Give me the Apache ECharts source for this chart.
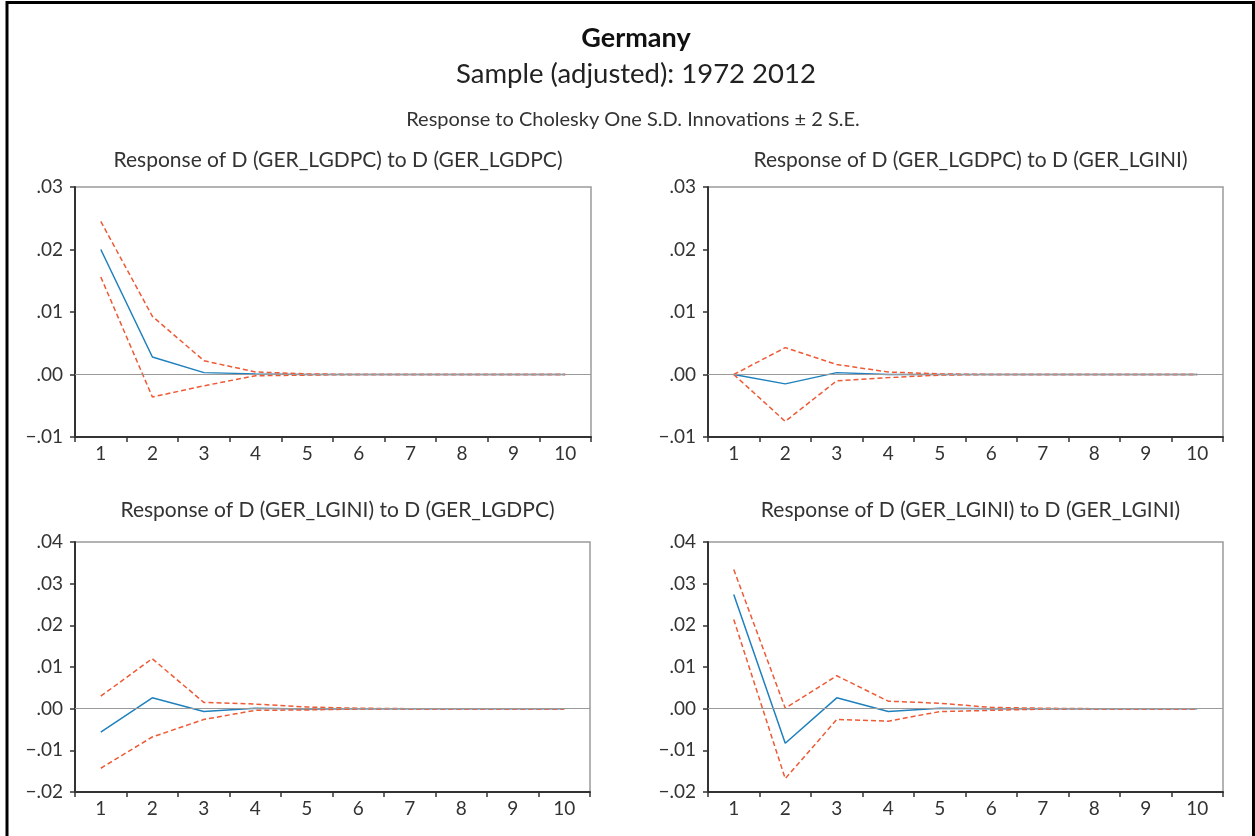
<!DOCTYPE html>
<html><head><meta charset="utf-8">
<script src="https://cdn.jsdelivr.net/npm/echarts@6/dist/echarts.min.js"></script>
<style>html,body{margin:0;padding:0;background:#fff}#c{width:1255px;height:836px}</style>
</head><body><div id="c"></div>
<script>
const periods = ['1','2','3','4','5','6','7','8','9','10'];

// Response of D(GER_LGDPC) to D(GER_LGDPC)
const p1_resp  = [0.0200, 0.0028, 0.0003, 0.0001, 0.0000, 0.0000, 0.0000, 0.0000, 0.0000, 0.0000];
const p1_upper = [0.0245, 0.0093, 0.0022, 0.0004, 0.0001, 0.0000, 0.0000, 0.0000, 0.0000, 0.0000];
const p1_lower = [0.0156, -0.0036, -0.0018, -0.0002, -0.0001, 0.0000, 0.0000, 0.0000, 0.0000, 0.0000];

// Response of D(GER_LGDPC) to D(GER_LGINI)
const p2_resp  = [0.0000, -0.0015, 0.0003, 0.0000, 0.0000, 0.0000, 0.0000, 0.0000, 0.0000, 0.0000];
const p2_upper = [0.0000, 0.0043, 0.0016, 0.0004, 0.0001, 0.0000, 0.0000, 0.0000, 0.0000, 0.0000];
const p2_lower = [0.0000, -0.0075, -0.0010, -0.0005, -0.0001, 0.0000, 0.0000, 0.0000, 0.0000, 0.0000];

// Response of D(GER_LGINI) to D(GER_LGDPC)
const p3_resp  = [-0.0056, 0.0026, -0.0007, 0.0001, -0.0001, 0.0000, 0.0000, 0.0000, 0.0000, 0.0000];
const p3_upper = [0.0030, 0.0120, 0.0015, 0.0011, 0.0004, 0.0001, 0.0000, 0.0000, 0.0000, 0.0000];
const p3_lower = [-0.0143, -0.0068, -0.0026, -0.0004, -0.0003, -0.0001, 0.0000, 0.0000, 0.0000, 0.0000];

// Response of D(GER_LGINI) to D(GER_LGINI)
const p4_resp  = [0.0274, -0.0083, 0.0026, -0.0007, 0.0001, 0.0000, 0.0000, 0.0000, 0.0000, 0.0000];
const p4_upper = [0.0334, 0.0001, 0.0079, 0.0018, 0.0013, 0.0003, 0.0001, 0.0000, 0.0000, 0.0000];
const p4_lower = [0.0214, -0.0168, -0.0026, -0.0030, -0.0007, -0.0004, -0.0001, 0.0000, 0.0000, 0.0000];

const panelTitles = [
  'Response of D (GER_LGDPC) to D (GER_LGDPC)',
  'Response of D (GER_LGDPC) to D (GER_LGINI)',
  'Response of D (GER_LGINI) to D (GER_LGDPC)',
  'Response of D (GER_LGINI) to D (GER_LGINI)'
];
const yRanges = [[-0.01, 0.03], [-0.01, 0.03], [-0.02, 0.04], [-0.02, 0.04]];
const panels = [
  [p1_resp, p1_upper, p1_lower],
  [p2_resp, p2_upper, p2_lower],
  [p3_resp, p3_upper, p3_lower],
  [p4_resp, p4_upper, p4_lower]
];

const FONT = 'Lato, "Open Sans", sans-serif';
const TXT = '#333';
const BLUE = '#1f80bd';
const RED = '#ee5a35';

const grids = [
  {left: 75, top: 187, width: 516, height: 250},
  {left: 708, top: 187, width: 515, height: 250},
  {left: 75, top: 542, width: 515, height: 250},
  {left: 708, top: 542, width: 515, height: 250}
];

function fmt(v) {
  let s = Math.abs(v).toFixed(2).replace(/^0\./, '.');
  return (v < -1e-9 ? '\u2212' : '') + s;
}

const option = {
  animation: false,
  backgroundColor: '#fff',
  textStyle: {fontFamily: FONT},
  title: [
    {text: 'Germany', left: 631, top: 20, textAlign: 'center',
     textStyle: {fontFamily: FONT, fontSize: 27, fontWeight: 'bold', color: '#111'}},
    {text: 'Sample (adjusted): 1972 2012', left: 631, top: 55, textAlign: 'center',
     textStyle: {fontFamily: FONT, fontSize: 27.5, fontWeight: 'normal', color: '#222'}},
    {text: 'Response to Cholesky One S.D. Innovations \u00b1 2 S.E.', left: 628, top: 105, textAlign: 'center',
     textStyle: {fontFamily: FONT, fontSize: 20, fontWeight: 'normal', color: TXT}}
  ],
  grid: grids.map(g => Object.assign({show: true, borderColor: '#9a9a9a', borderWidth: 1.5, backgroundColor: 'transparent'}, g)),
  xAxis: grids.map((g, i) => ({
    type: 'category', gridIndex: i, data: periods, boundaryGap: true,
    axisLine: {show: true, onZero: false, lineStyle: {color: '#333', width: 2}},
    axisTick: {show: true, alignWithLabel: false, length: 5, lineStyle: {color: '#333', width: 1.5}},
    axisLabel: {color: TXT, fontSize: 19, fontFamily: FONT, margin: 7},
    splitLine: {show: false}
  })),
  yAxis: grids.map((g, i) => ({
    type: 'value', gridIndex: i, min: yRanges[i][0], max: yRanges[i][1], interval: 0.01,
    axisLine: {show: true, onZero: false, lineStyle: {color: '#333', width: 2}},
    axisTick: {show: true, length: 5, lineStyle: {color: '#333', width: 1.5}},
    axisLabel: {color: TXT, fontSize: 19, fontFamily: FONT, margin: 12, formatter: fmt},
    splitLine: {show: false}
  })),
  series: [],
  graphic: [
    {type: 'polyline', silent: true, z: 100,
     shape: {points: [[7, 836], [7, 2.5], [1253.5, 2.5], [1253.5, 836]]},
     style: {stroke: '#000', lineWidth: 3, fill: null}}
  ]
};

panels.forEach((p, i) => {
  const g = grids[i];
  option.title.push({
    text: panelTitles[i], left: g.left + g.width / 2, top: i < 2 ? 145 : 495, textAlign: 'center',
    textStyle: {fontFamily: FONT, fontSize: 21, fontWeight: 'normal', color: TXT}
  });
  option.series.push({
    type: 'line', xAxisIndex: i, yAxisIndex: i, data: p[0], symbol: 'none', z: 3,
    lineStyle: {color: BLUE, width: 1.5},
    markLine: {silent: true, symbol: 'none', label: {show: false}, animation: false,
      lineStyle: {color: '#9a9a9a', width: 1.2, type: 'solid'}, data: [{yAxis: 0}]}
  });
  option.series.push({
    type: 'line', xAxisIndex: i, yAxisIndex: i, data: p[1], symbol: 'none', z: 4,
    lineStyle: {color: RED, width: 1.5, type: [5, 3]}
  });
  option.series.push({
    type: 'line', xAxisIndex: i, yAxisIndex: i, data: p[2], symbol: 'none', z: 4,
    lineStyle: {color: RED, width: 1.5, type: [5, 3]}
  });
});

const chart = echarts.init(document.getElementById('c'), null, {renderer: 'canvas'});
chart.setOption(option);
</script>
</body></html>
